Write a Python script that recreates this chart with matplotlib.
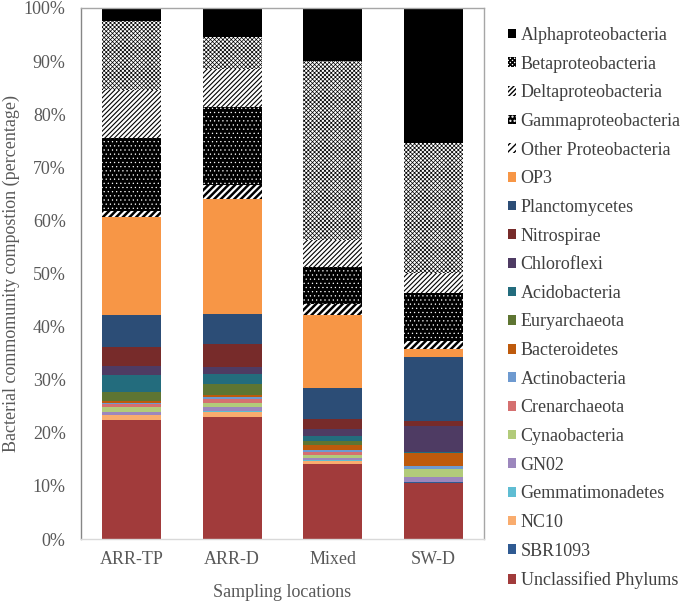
import matplotlib
matplotlib.use("Agg")
import matplotlib.pyplot as plt
from matplotlib.patches import Patch
import numpy as np

plt.rcParams['font.family'] = ['Liberation Serif', 'DejaVu Serif']

categories = ["ARR-TP", "ARR-D", "Mixed", "SW-D"]

# series from bottom of stack to top
unclassified = [22.4, 23.0, 14.1, 10.6]
sbr1093 = [0.05, 0.05, 0.05, 0.05]
nc10 = [0.9, 0.95, 0.6, 0.0]
gemmatimonadetes = [0.05, 0.05, 0.05, 0.0]
gn02 = [0.6, 0.75, 0.5, 0.95]
cynaobacteria = [0.8, 0.8, 0.6, 1.6]
crenarchaeota = [0.7, 0.75, 0.45, 0.0]
actinobacteria = [0.1, 0.3, 0.4, 0.5]
bacteroidetes = [0.45, 0.4, 0.9, 2.5]
euryarchaeota = [1.7, 2.2, 0.8, 0.0]
acidobacteria = [3.1, 1.8, 0.95, 0.2]
chloroflexi = [1.75, 1.25, 1.25, 4.95]
nitrospirae = [3.5, 4.45, 1.9, 0.9]
planctomycetes = [6.0, 5.65, 5.8, 12.1]
op3 = [18.5, 21.6, 13.8, 1.5]
other_proteo = [1.1, 2.7, 2.1, 1.5]
gamma = [13.9, 14.7, 7.0, 9.0]
delta = [9.0, 7.1, 5.1, 3.7]
beta = [12.9, 6.1, 33.6, 24.6]
alpha = [2.5, 5.4, 10.0, 25.2]

names = ["Unclassified Phylums", "SBR1093", "NC10", "Gemmatimonadetes", "GN02",
         "Cynaobacteria", "Crenarchaeota", "Actinobacteria", "Bacteroidetes",
         "Euryarchaeota", "Acidobacteria", "Chloroflexi", "Nitrospirae",
         "Planctomycetes", "OP3", "Other Proteobacteria", "Gammaproteobacteria",
         "Deltaproteobacteria", "Betaproteobacteria", "Alphaproteobacteria"]
series = [unclassified, sbr1093, nc10, gemmatimonadetes, gn02, cynaobacteria,
          crenarchaeota, actinobacteria, bacteroidetes, euryarchaeota,
          acidobacteria, chloroflexi, nitrospirae, planctomycetes, op3,
          other_proteo, gamma, delta, beta, alpha]

# style: (facecolor, hatchcolor, hatch, hatch linewidth)
styles = {
    "Unclassified Phylums": ("#A13B3B", None, None, 1),
    "SBR1093": ("#2F5A92", None, None, 1),
    "NC10": ("#F9AC6E", None, None, 1),
    "Gemmatimonadetes": ("#5FBDD3", None, None, 1),
    "GN02": ("#9C87BD", None, None, 1),
    "Cynaobacteria": ("#B2CB7A", None, None, 1),
    "Crenarchaeota": ("#D57070", None, None, 1),
    "Actinobacteria": ("#6E9AD0", None, None, 1),
    "Bacteroidetes": ("#BE5A0C", None, None, 1),
    "Euryarchaeota": ("#5E7532", None, None, 1),
    "Acidobacteria": ("#236C7D", None, None, 1),
    "Chloroflexi": ("#4E3B63", None, None, 1),
    "Nitrospirae": ("#772B2A", None, None, 1),
    "Planctomycetes": ("#2C4D76", None, None, 1),
    "OP3": ("#F79646", None, None, 1),
    "Other Proteobacteria": ("white", "black", "/////", 1.8),
    "Gammaproteobacteria": ("black", "white", "....", 0.4),
    "Deltaproteobacteria": ("white", "black", "///////", 0.8),
    "Betaproteobacteria": ("white", "black", "xxxxxxxx", 0.5),
    "Alphaproteobacteria": ("black", None, None, 1),
}

fig = plt.figure(figsize=(6.85, 6.02), dpi=100)
ax = fig.add_axes([81/685, 63/602, 403/685, 531/602])

x = np.arange(len(categories))
bottom = np.zeros(len(categories))
handles = []
for name, vals in zip(names, series):
    fc, hc, hatch, hlw = styles[name]
    vals = np.array(vals, dtype=float)
    with plt.rc_context({'hatch.linewidth': hlw}):
        kw = dict(color=fc, linewidth=0, width=0.585)
        if hatch:
            kw.update(hatch=hatch, edgecolor=hc)
        ax.bar(x, vals, bottom=bottom, **kw)
        h = Patch(facecolor=fc, edgecolor=hc if hc else fc, hatch=hatch, linewidth=0)
    handles.append(h)
    bottom += vals

ax.set_xlim(-0.5, 3.5)
ax.set_ylim(0, 100)
ax.set_yticks(np.arange(0, 101, 10))
ax.set_yticklabels([f"{v}%" for v in range(0, 101, 10)])
ax.set_xticks(x)
ax.set_xticklabels(categories)
ax.tick_params(axis='both', length=0, labelsize=13, colors='#595959')
ax.tick_params(axis='y', pad=11)
ax.tick_params(axis='x', pad=9)
ax.set_ylabel("Bacterial commomunity compostion (percentage)", fontsize=13,
              color='#595959', labelpad=3)
ax.set_xlabel("Sampling locations", fontsize=13, color='#595959', labelpad=11)

ax.spines['left'].set_color('#868686')
ax.spines['bottom'].set_color('#D9D9D9')
ax.spines['top'].set_color('#A6A6A6')
ax.spines['right'].set_color('#A6A6A6')
for s in ax.spines.values():
    s.set_linewidth(1.0)

leg = fig.legend(handles[::-1], names[::-1], loc='upper left',
                 bbox_to_anchor=(508/685, 1 - 27/602), frameon=False,
                 fontsize=13, handlelength=0.45, handleheight=0.45,
                 handletextpad=0.25, labelspacing=0.645, borderpad=0,
                 borderaxespad=0)
for t in leg.get_texts():
    t.set_color('#404040')

fig.savefig("out.png", dpi=100)
